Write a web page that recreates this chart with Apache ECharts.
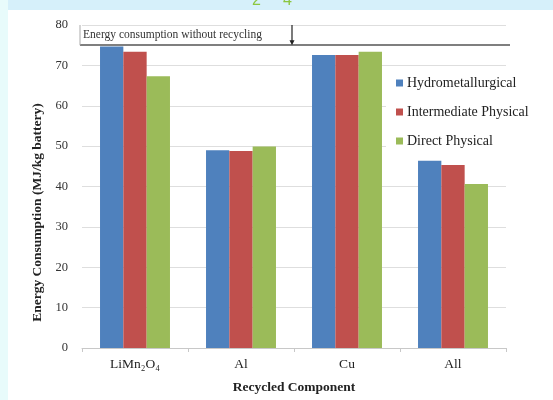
<!DOCTYPE html>
<html><head><meta charset="utf-8">
<script src="https://cdn.jsdelivr.net/npm/echarts@6/dist/echarts.min.js"></script>
<style>html,body{margin:0;padding:0;background:#d6f0fa}#c{width:553px;height:400px}</style>
</head><body><div id="c"></div>
<script>
var categories = ['LiMn\u2082O\u2084', 'Al', 'Cu', 'All'];
var hydro = [74.7, 49.0, 72.6, 46.4];
var intermediate = [73.4, 48.8, 72.6, 45.3];
var direct = [67.3, 49.9, 73.4, 40.6];
var baseline = 75;
var yTicks = [0, 10, 20, 30, 40, 50, 60, 70, 80];
var seriesNames = ['Hydrometallurgical', 'Intermediate Physical', 'Direct Physical'];
var colors = ['#4f81bd', '#c0504d', '#9bbb59'];
var serif = '"Liberation Serif","DejaVu Serif",serif';

var chart = echarts.init(document.getElementById('c'), null, {renderer: 'canvas'});
var option = {
  backgroundColor: '#d6f0fa',
  animation: false,
  color: colors,
  grid: {left: 82, right: 47, top: 25, bottom: 52},
  legend: {
    orient: 'vertical', left: 386, top: 68,
    data: seriesNames,
    itemWidth: 7, itemHeight: 7, itemGap: 15,
    icon: 'rect',
    backgroundColor: '#ffffff',
    padding: [8, 10, 8, 10],
    textStyle: {fontFamily: serif, fontSize: 14, color: '#222', lineHeight: 14, padding: [0,0,0,-1]}
  },
  xAxis: {
    type: 'category', data: categories,
    name: 'Recycled Component', nameLocation: 'middle', nameGap: 33,
    nameTextStyle: {fontFamily: serif, fontWeight: 'bold', fontSize: 13.5, color: '#222'},
    axisLine: {lineStyle: {color: '#c8c8c8'}},
    axisTick: {show: true, length: 4, lineStyle: {color: '#c8c8c8'}},
    axisLabel: {fontFamily: serif, fontSize: 13.5, color: '#222', margin: 9}
  },
  yAxis: {
    type: 'value', min: 0, max: 80, interval: 10,
    name: 'Energy Consumption (MJ/kg battery)', nameLocation: 'middle', nameGap: 37,
    nameTextStyle: {fontFamily: serif, fontWeight: 'bold', fontSize: 13.5, color: '#222', padding: [0, 52, 0, 0]},
    axisLine: {show: false}, axisTick: {show: false},
    axisLabel: {fontFamily: serif, fontSize: 12.5, color: '#333', margin: 14,
      formatter: function (v) { return yTicks.indexOf(v) >= 0 ? String(v) : ''; }},
    splitLine: {lineStyle: {color: '#dedede'}}
  },
  series: [
    {name: seriesNames[0], type: 'bar', data: hydro, barGap: '0%', barCategoryGap: '34%',
      markLine: {
        silent: true, symbol: ['none', 'none'],
        lineStyle: {color: '#555', width: 1.5, type: 'solid'},
        label: {show: true, position: 'insideStartTop', formatter: 'Energy consumption without recycling',
          fontFamily: serif, fontSize: 11.5, color: '#333', distance: [3, 4]},
        data: [[{yAxis: baseline, x: 80}, {yAxis: baseline, x: 510}]]
      }},
    {name: seriesNames[1], type: 'bar', data: intermediate, barGap: '0%', barCategoryGap: '34%'},
    {name: seriesNames[2], type: 'bar', data: direct, barGap: '0%', barCategoryGap: '34%'}
  ]
};
chart.setOption(option);

// annotation arrow between Al and Cu, from 80 down to baseline
var pAl = chart.convertToPixel({xAxisIndex: 0, yAxisIndex: 0}, ['Al', 80]);
var pCu = chart.convertToPixel({xAxisIndex: 0, yAxisIndex: 0}, ['Cu', baseline]);
var ax = (pAl[0] + pCu[0]) / 2 - 2;
var pTop = chart.convertToPixel({yAxisIndex: 0}, 80);
var pBase = chart.convertToPixel({yAxisIndex: 0}, baseline);

chart.setOption({
  graphic: [
    {type: 'rect', z: -100, shape: {x: 0, y: 0, width: 8, height: 400}, style: {fill: '#e8fbfb'}},
    {type: 'text', z: -99, style: {text: '2', x: 252, y: -7, font: '16px sans-serif', fill: '#8cc63f'}},
    {type: 'text', z: -99, style: {text: '4', x: 283, y: -7, font: '16px sans-serif', fill: '#8cc63f'}},
    {type: 'rect', z: -98, shape: {x: 8, y: 10, width: 545, height: 390}, style: {fill: '#ffffff'}},
    {type: 'line', z: 50, shape: {x1: ax, y1: pTop, x2: ax, y2: pBase - 3}, style: {stroke: '#222', lineWidth: 1.2}},
    {type: 'polygon', z: 50, shape: {points: [[ax - 2.5, pBase - 5], [ax + 2.5, pBase - 5], [ax, pBase]]}, style: {fill: '#222'}},
    {type: 'line', z: 50, shape: {x1: 80, y1: pTop, x2: 80, y2: pBase}, style: {stroke: '#aaa', lineWidth: 1}}
  ]
});
</script></body></html>
